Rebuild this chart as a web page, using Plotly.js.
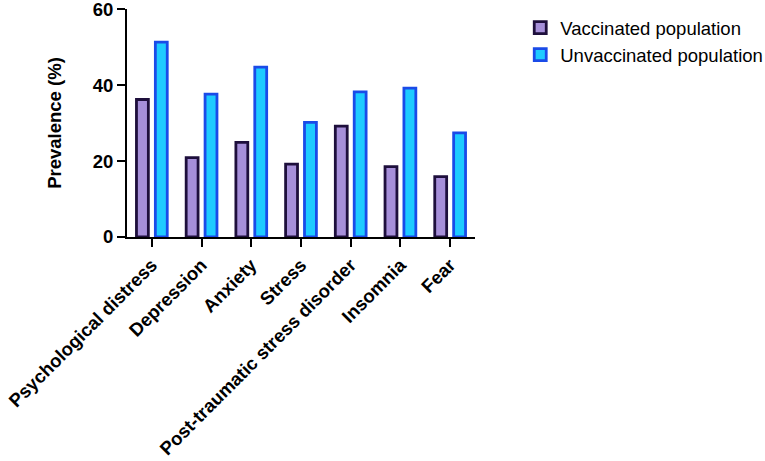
<!DOCTYPE html>
<html>
<head>
<meta charset="utf-8">
<script src="https://cdn.plot.ly/plotly-3.0.1.min.js"></script>
<style>
  html, body { margin: 0; padding: 0; background: #fff; }
  #chart { width: 765px; height: 461px; }
</style>
</head>
<body>
<div id="chart"></div>
<script>
// prevalence (%) by outcome
var categories = ["Psychological distress", "Depression", "Anxiety", "Stress",
  "Post-traumatic stress disorder", "Insomnia", "Fear"];
var vaccinated = [36.2, 20.9, 24.9, 19.2, 29.2, 18.5, 15.9];
var unvaccinated = [51.3, 37.6, 44.7, 30.2, 38.2, 39.2, 27.4];
var yTicks = [0, 20, 40, 60];

var boldFont = { family: "Liberation Sans, Arial, sans-serif", size: 18.5, color: "#000", weight: "bold" };

var traces = [{
  type: "bar",
  name: "Vaccinated population",
  x: categories,
  y: vaccinated,
  marker: { color: "#a68fd9", line: { color: "#1e0f3c", width: 2.8 } },
  hoverinfo: "x+y"
}, {
  type: "bar",
  name: "Unvaccinated population",
  x: categories,
  y: unvaccinated,
  marker: { color: "#1ecbff", line: { color: "#1a4be8", width: 2.8 } },
  hoverinfo: "x+y"
}];

var layout = {
  width: 765,
  height: 461,
  margin: { t: 9, b: 224, l: 127, r: 290, autoexpand: false },
  paper_bgcolor: "#fff",
  plot_bgcolor: "#fff",
  barmode: "group",
  bargap: 0.24,
  bargroupgap: 0.37,
  font: { family: "Liberation Sans, Arial, sans-serif", color: "#000" },
  xaxis: {
    type: "category",
    range: [-0.5, 6.5],
    automargin: false,
    ticklabeloverflow: "allow",
    tickangle: -45,
    tickfont: boldFont,
    ticks: "outside",
    ticklen: 8,
    tickwidth: 2,
    tickcolor: "#000",
    showline: true,
    linecolor: "#000",
    linewidth: 2,
    showgrid: false,
    zeroline: false
  },
  yaxis: {
    range: [0, 60.02],
    automargin: false,
    ticklabeloverflow: "allow",
    tickvals: yTicks,
    ticktext: yTicks.map(String),
    tickfont: boldFont,
    ticks: "outside",
    ticklen: 8,
    tickwidth: 2,
    tickcolor: "#000",
    showline: true,
    linecolor: "#000",
    linewidth: 2,
    showgrid: false,
    zeroline: false,
    title: { text: "Prevalence (%)", font: boldFont, standoff: 26 }
  },
  showlegend: true,
  legend: {
    x: 1.13,
    y: 1.0,
    xanchor: "left",
    yanchor: "top",
    font: { family: "Liberation Sans, Arial, sans-serif", size: 18.5, color: "#000" },
    tracegroupgap: 4,
    bgcolor: "rgba(0,0,0,0)"
  }
};

Plotly.newPlot("chart", traces, layout, { displayModeBar: false, staticPlot: true });
</script>
</body>
</html>
